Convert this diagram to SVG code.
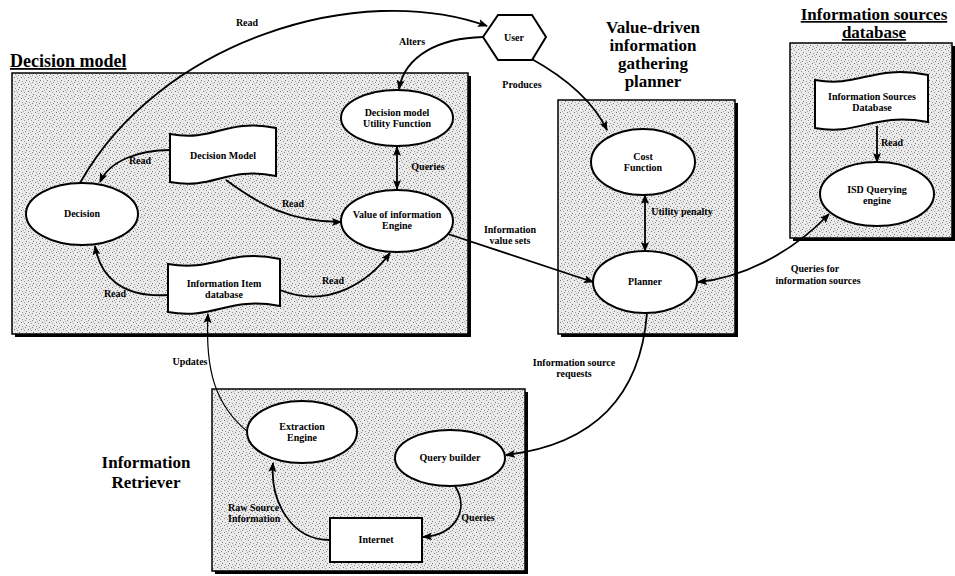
<svg xmlns="http://www.w3.org/2000/svg" width="955" height="576" viewBox="0 0 955 576">
<style>
  .box{fill:url(#stip);stroke:#000;stroke-width:1.5}
  .shadow{fill:#000}
  .node{fill:#fff;stroke:#000;stroke-width:2}
  .lbl{font-family:"Liberation Serif",serif;font-weight:bold;font-size:10px;text-anchor:middle;fill:#000}
  .ttl{font-family:"Liberation Serif",serif;font-weight:bold;font-size:17px;text-anchor:middle;fill:#000}
  .conn path{fill:none;stroke:#000;stroke-width:1.8;marker-end:url(#ah)}
  .conn path.both{marker-start:url(#ah)}
  .conn path.thin{stroke-width:1.2}
</style>
<defs>
  <pattern id="stip" width="7" height="7" patternUnits="userSpaceOnUse">
    <rect width="7" height="7" fill="#eaeaea"/>
    <rect x="0" y="0" width="1" height="1" fill="#777"/>
    <rect x="3" y="1" width="1" height="1" fill="#999"/>
    <rect x="5" y="3" width="1" height="1" fill="#777"/>
    <rect x="1" y="4" width="1" height="1" fill="#999"/>
    <rect x="4" y="5" width="1" height="1" fill="#888"/>
    <rect x="2" y="6" width="1" height="1" fill="#aaa"/>
  </pattern>
  <marker id="ah" viewBox="0 0 10 8" refX="9" refY="4" markerWidth="10" markerHeight="8" markerUnits="userSpaceOnUse" orient="auto-start-reverse">
    <path d="M0,0 L10,4 L0,8 L2,4 Z" fill="#000"/>
  </marker>
</defs>
<rect width="955" height="576" fill="#fff"/>

<!-- containers -->
<g id="decision-model-area">
  <rect class="shadow" x="15" y="76" width="456" height="261"/>
  <rect class="box" x="12" y="73" width="456" height="261"/>
  <text x="10" y="67" style="font-family:'Liberation Serif',serif;font-weight:bold;font-size:18px;text-decoration:underline">Decision model</text>
</g>
<g id="planner-area">
  <rect class="shadow" x="561" y="103" width="177" height="234"/>
  <rect class="box" x="558" y="100" width="177" height="234"/>
  <text class="ttl" x="653" y="33">Value-driven</text>
  <text class="ttl" x="653" y="51">information</text>
  <text class="ttl" x="653" y="69">gathering</text>
  <text class="ttl" x="653" y="87">planner</text>
</g>
<g id="isd-area">
  <rect class="shadow" x="793" y="46" width="164" height="195"/>
  <rect class="box" x="790" y="43" width="162" height="195"/>
  <text class="ttl" x="874" y="20" style="text-decoration:underline">Information sources</text>
  <text class="ttl" x="874" y="38" style="text-decoration:underline">database</text>
</g>
<g id="retriever-area">
  <rect class="shadow" x="215" y="392" width="313" height="182"/>
  <rect class="box" x="212" y="389" width="313" height="182"/>
  <text class="ttl" x="146" y="468">Information</text>
  <text class="ttl" x="146" y="488">Retriever</text>
</g>

<!-- connectors -->
<g id="connectors" class="conn">
  <path d="M80,183 C160,40 360,-20 487,26"/>
  <path d="M483,37 C440,38 405,55 399,89"/>
  <path d="M530,58 C570,80 595,105 607,130"/>
  <path class="both" d="M397,147 L397,189"/>
  <path d="M170,150 C140,150 110,160 100,182"/>
  <path d="M226,180 C260,205 290,222 341,222"/>
  <path d="M168,295 C120,298 100,275 95,246"/>
  <path d="M280,290 C330,310 370,280 390,253"/>
  <path d="M448,234 L593,282"/>
  <path class="both" d="M645,195 L645,251"/>
  <path class="both" d="M698,282 C740,278 790,255 829,214"/>
  <path d="M877,126 L877,162"/>
  <path d="M647,313 C640,400 590,445 506,455"/>
  <path class="thin" d="M248,432 C215,405 205,370 208,314"/>
  <path d="M455,486 C470,510 455,535 423,537"/>
  <path d="M330,540 C290,540 270,500 273,463"/>
  <!-- connector labels -->
  <text class="lbl" x="247" y="26">Read</text>
  <text class="lbl" x="412" y="45">Alters</text>
  <text class="lbl" x="522" y="88">Produces</text>
  <text class="lbl" x="428" y="170">Queries</text>
  <text class="lbl" x="140" y="164">Read</text>
  <text class="lbl" x="293" y="207">Read</text>
  <text class="lbl" x="115" y="297">Read</text>
  <text class="lbl" x="333" y="284">Read</text>
  <text class="lbl" x="510" y="233">Information</text>
  <text class="lbl" x="510" y="244">value sets</text>
  <text class="lbl" x="682" y="215">Utility penalty</text>
  <text class="lbl" x="815" y="272">Queries for</text>
  <text class="lbl" x="818" y="284">information sources</text>
  <text class="lbl" x="892" y="146">Read</text>
  <text class="lbl" x="574" y="366">Information source</text>
  <text class="lbl" x="574" y="377">requests</text>
  <text class="lbl" x="190" y="365">Updates</text>
  <text class="lbl" x="478" y="521">Queries</text>
  <text class="lbl" x="228" y="511" style="text-anchor:start">Raw Source</text>
  <text class="lbl" x="228" y="522" style="text-anchor:start">Information</text>
</g>

<!-- nodes -->
<g id="user">
  <polygon class="node" points="483,37 498,15 532,15 546,37 532,60 498,60"/>
  <text class="lbl" x="514" y="41">User</text>
</g>
<g id="decision">
  <ellipse class="node" cx="82" cy="214" rx="56" ry="31"/>
  <text class="lbl" x="82" y="217">Decision</text>
</g>
<g id="decision-model-doc">
  <path class="node" d="M170,134 C215,142 225,118 276,128 L276,176 C225,166 215,190 170,182 Z"/>
  <text class="lbl" x="223" y="159">Decision Model</text>
</g>
<g id="utility-function">
  <ellipse class="node" cx="397" cy="118" rx="56" ry="28"/>
  <text class="lbl" x="397" y="116">Decision model</text>
  <text class="lbl" x="397" y="127">Utility Function</text>
</g>
<g id="voi-engine">
  <ellipse class="node" cx="397" cy="221" rx="56" ry="31"/>
  <text class="lbl" x="397" y="218">Value of information</text>
  <text class="lbl" x="397" y="229">Engine</text>
</g>
<g id="info-item-db">
  <path class="node" d="M168,264 C215,272 228,248 280,259 L280,306 C228,296 215,320 168,312 Z"/>
  <text class="lbl" x="224" y="287">Information Item</text>
  <text class="lbl" x="224" y="298">database</text>
</g>
<g id="cost-function">
  <ellipse class="node" cx="643" cy="162" rx="52" ry="33"/>
  <text class="lbl" x="643" y="160">Cost</text>
  <text class="lbl" x="643" y="171">Function</text>
</g>
<g id="planner">
  <ellipse class="node" cx="645" cy="282" rx="52" ry="31"/>
  <text class="lbl" x="645" y="285">Planner</text>
</g>
<g id="isd-doc">
  <path class="node" d="M815,80 C860,88 872,64 928,75 L928,122 C872,112 860,136 815,128 Z"/>
  <text class="lbl" x="872" y="100">Information Sources</text>
  <text class="lbl" x="872" y="111">Database</text>
</g>
<g id="isd-engine">
  <ellipse class="node" cx="877" cy="194" rx="57" ry="32"/>
  <text class="lbl" x="877" y="193">ISD Querying</text>
  <text class="lbl" x="877" y="204">engine</text>
</g>
<g id="extraction-engine">
  <ellipse class="node" cx="302" cy="432" rx="55" ry="31"/>
  <text class="lbl" x="302" y="430">Extraction</text>
  <text class="lbl" x="302" y="441">Engine</text>
</g>
<g id="query-builder">
  <ellipse class="node" cx="450" cy="458" rx="55" ry="28"/>
  <text class="lbl" x="450" y="461">Query builder</text>
</g>
<g id="internet">
  <rect class="node" x="330" y="518" width="92" height="44"/>
  <text class="lbl" x="376" y="543">Internet</text>
</g>
</svg>
